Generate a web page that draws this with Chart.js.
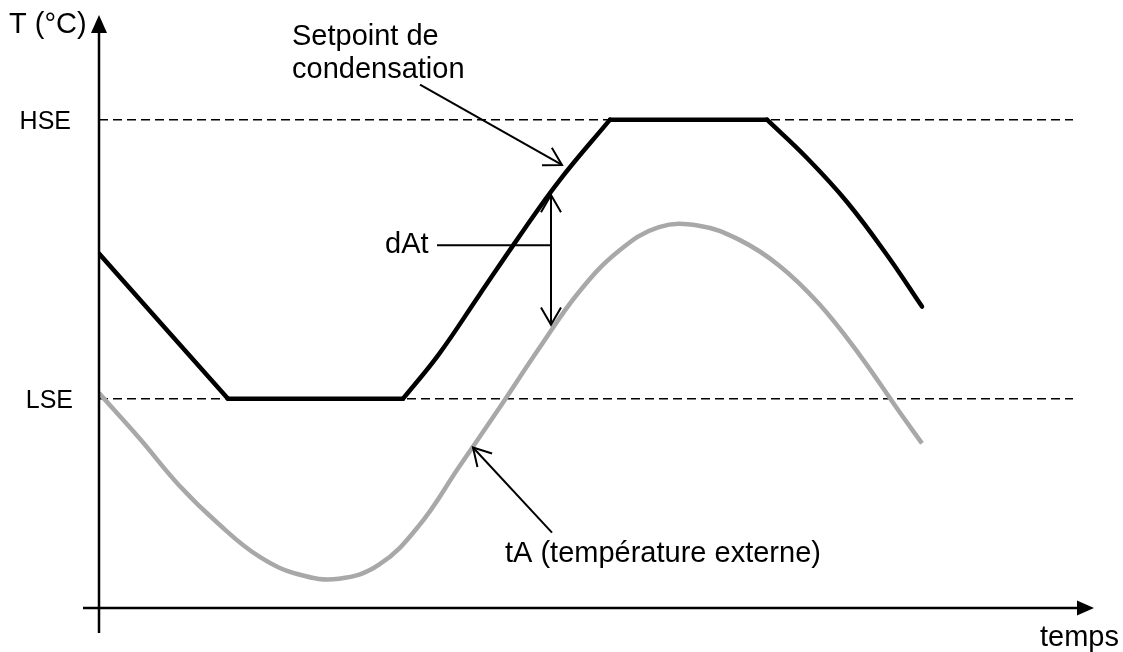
<!DOCTYPE html>
<html>
<head>
<meta charset="utf-8">
<script src="https://cdn.jsdelivr.net/npm/chart.js@4.4.1/dist/chart.umd.min.js"></script>
<style>
  html, body { margin: 0; padding: 0; background: #fff; }
  canvas { display: block; }
</style>
</head>
<body>
<canvas id="chart" width="1123" height="652"></canvas>
<script>
// niveaux de consigne (unités arbitraires, schéma)
const HSE = 35;
const LSE = 15;

// setpoint de condensation, par tronçons (temps, valeur)
const spDescT = [0, 12.9];
const spDescY = [25.4, LSE];
const spLowT = [12.9, 30.4];
const spLowY = [LSE, LSE];
const spRiseT = [30.4, 34, 38, 42, 46, 51.1];
const spRiseY = [LSE, 18.2, 22.4, 26.6, 30.6, HSE];
const spHighT = [51.1, 66.8];
const spHighY = [HSE, HSE];
const spFallT = [66.8, 70.8, 74.8, 78.8, 82.3];
const spFallY = [HSE, 32.25, 29.1, 25.3, 21.6];

// tA (température externe)
const tAT = [0, 4, 8, 12, 16, 20, 24, 28, 32, 36, 40, 44, 48, 52, 56, 60, 64, 68, 72, 76, 80, 82.3];
const tAY = [15.4, 12.2, 8.8, 6.0, 3.7, 2.4, 2.1, 3.1, 5.9, 10.1, 14.3, 18.6, 22.65, 25.6, 27.3, 27.4, 26.4, 24.55, 21.8, 18.2, 14.1, 11.8];

// étendue des lignes pointillées HSE / LSE
const dashT = [0, 97.4];

const pts = (xs, ys) => xs.map((x, i) => ({ x, y: ys[i] }));

const black = (xs, ys) => ({
  data: pts(xs, ys),
  borderColor: '#000',
  borderWidth: 4.5,
  borderCapStyle: 'round',
  borderJoinStyle: 'round',
  tension: 0.4,
  pointRadius: 0,
  fill: false
});

const dashed = (v) => ({
  data: pts(dashT, dashT.map(() => v)),
  borderColor: '#000',
  borderWidth: 1.5,
  borderDash: [9, 5],
  pointRadius: 0,
  fill: false
});

const FONT = '"Liberation Sans", Arial, sans-serif';

function arrowHead(ctx, x0, y0, x1, y1, len = 20, ang = Math.PI / 6) {
  const a = Math.atan2(y1 - y0, x1 - x0);
  ctx.beginPath();
  ctx.moveTo(x1 - len * Math.cos(a - ang), y1 - len * Math.sin(a - ang));
  ctx.lineTo(x1, y1);
  ctx.lineTo(x1 - len * Math.cos(a + ang), y1 - len * Math.sin(a + ang));
  ctx.stroke();
}

function arrow(ctx, x0, y0, x1, y1) {
  ctx.beginPath();
  ctx.moveTo(x0, y0);
  ctx.lineTo(x1, y1);
  ctx.stroke();
  arrowHead(ctx, x0, y0, x1, y1);
}

// axes fléchés + annotations du schéma
const schema = {
  id: 'schema',
  afterDatasetsDraw(chart) {
    const { ctx } = chart;
    const px = v => chart.scales.x.getPixelForValue(v);
    const py = v => chart.scales.y.getPixelForValue(v);
    const x0 = px(0), y0 = py(0);

    ctx.save();
    ctx.strokeStyle = '#000';
    ctx.fillStyle = '#000';

    // axe Y
    ctx.lineWidth = 2.5;
    ctx.beginPath();
    ctx.moveTo(x0, y0 + 25);
    ctx.lineTo(x0, 30);
    ctx.stroke();
    ctx.beginPath();
    ctx.moveTo(x0, 15);
    ctx.lineTo(x0 - 8, 33);
    ctx.lineTo(x0 + 8, 33);
    ctx.closePath();
    ctx.fill();

    // axe X
    ctx.beginPath();
    ctx.moveTo(x0 - 16, y0);
    ctx.lineTo(1080, y0);
    ctx.stroke();
    ctx.beginPath();
    ctx.moveTo(1094, y0);
    ctx.lineTo(1077, y0 - 7.5);
    ctx.lineTo(1077, y0 + 7.5);
    ctx.closePath();
    ctx.fill();

    // flèches d'annotation
    ctx.lineWidth = 2;
    ctx.lineCap = 'butt';
    // Setpoint de condensation
    arrow(ctx, px(32.1), py(37.5), px(46.3), py(31.75));
    // dAt
    const xd = px(45.2);
    ctx.beginPath();
    ctx.moveTo(xd, py(29.6));
    ctx.lineTo(xd, py(20.3));
    ctx.stroke();
    arrowHead(ctx, xd, py(20.3), xd, py(29.6));
    arrowHead(ctx, xd, py(29.6), xd, py(20.3));
    ctx.beginPath();
    ctx.moveTo(px(33.8), py(26.0));
    ctx.lineTo(xd, py(26.0));
    ctx.stroke();
    // tA
    arrow(ctx, px(45.3), py(5.4), px(37.4), py(11.5));

    // textes
    ctx.textBaseline = 'alphabetic';
    ctx.textAlign = 'left';
    ctx.font = '29px ' + FONT;
    ctx.fillText('T (°C)', 9, 33);
    ctx.fillText('Setpoint de', 292, 45);
    ctx.fillText('condensation', 292, 78);
    ctx.fillText('dAt', 385, 253);
    ctx.fillText('tA (température externe)', 505, 562);
    ctx.fillText('temps', 1040, 646);

    ctx.font = '25px ' + FONT;
    ctx.textAlign = 'right';
    ctx.fillText('HSE', 71, py(HSE) + 9);
    ctx.fillText('LSE', 73, py(LSE) + 9);
    ctx.restore();
  }
};

new Chart(document.getElementById('chart').getContext('2d'), {
  type: 'line',
  data: {
    datasets: [
      black(spDescT, spDescY),
      black(spLowT, spLowY),
      black(spRiseT, spRiseY),
      black(spHighT, spHighY),
      black(spFallT, spFallY),
      {
        data: pts(tAT, tAY),
        borderColor: '#a8a8a8',
        borderWidth: 4.5,
        tension: 0.4,
        pointRadius: 0,
        fill: false
      },
      dashed(HSE),
      dashed(LSE)
    ]
  },
  options: {
    responsive: false,
    animation: false,
    layout: { padding: { left: 99, right: 24, top: 8, bottom: 44 } },
    plugins: { legend: { display: false }, tooltip: { enabled: false } },
    scales: {
      x: { type: 'linear', min: 0, max: 100, display: false },
      y: { type: 'linear', min: 0, max: 43, display: false }
    }
  },
  plugins: [schema]
});
</script>
</body>
</html>
